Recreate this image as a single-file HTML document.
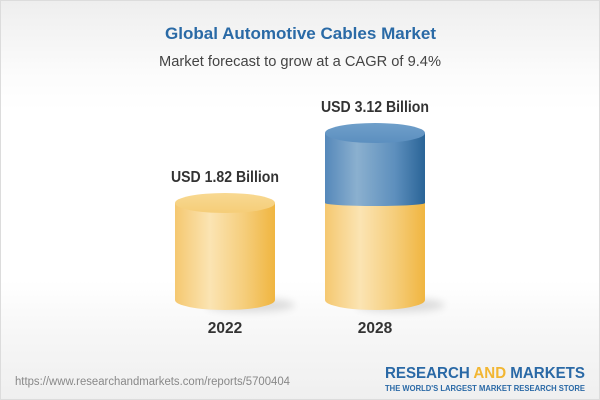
<!DOCTYPE html>
<html><head><meta charset="utf-8"><style>
html,body{margin:0;padding:0;}
body{width:600px;height:400px;overflow:hidden;font-family:"Liberation Sans",Arial,sans-serif;}
.wrap{position:relative;width:598px;height:398px;border:1px solid #dcdcdc;background:linear-gradient(to bottom,#eeeeee 0px,#fbfbfb 70px,#ffffff 110px,#ffffff 280px,#f7f7f7 330px,#efefef 400px);}
svg{position:absolute;left:0;top:0;}
</style></head><body><div class="wrap">
<svg width="598" height="398" viewBox="1 1 598 398" xmlns="http://www.w3.org/2000/svg">
<defs>
<linearGradient id="yb" x1="0" x2="1" y1="0" y2="0">
<stop offset="0" stop-color="#f5c870"/>
<stop offset="0.35" stop-color="#fbe4b3"/>
<stop offset="0.7" stop-color="#f5cd7a"/>
<stop offset="1" stop-color="#f0b540"/>
</linearGradient>
<linearGradient id="yt" x1="0" x2="0" y1="0" y2="1">
<stop offset="0" stop-color="#f8d992"/>
<stop offset="1" stop-color="#f5cd78"/>
</linearGradient>
<linearGradient id="bb" x1="0" x2="1" y1="0" y2="0">
<stop offset="0" stop-color="#5588ba"/>
<stop offset="0.32" stop-color="#8bb0cf"/>
<stop offset="0.7" stop-color="#5d8fbd"/>
<stop offset="1" stop-color="#2a6497"/>
</linearGradient>
<linearGradient id="bt" x1="0" x2="0" y1="0" y2="1">
<stop offset="0" stop-color="#6f9fca"/>
<stop offset="1" stop-color="#5c8fbf"/>
</linearGradient>
<filter id="blur" x="-50%" y="-50%" width="200%" height="200%"><feGaussianBlur stdDeviation="4"/></filter>
</defs>
<text x="165" y="39" font-family="Liberation Sans, Arial, sans-serif" font-weight="bold" font-size="16.8" fill="#2a6aa6" textLength="271" lengthAdjust="spacingAndGlyphs">Global Automotive Cables Market</text>
<text x="159" y="66" font-family="Liberation Sans, Arial, sans-serif" font-size="15" fill="#444" textLength="282" lengthAdjust="spacingAndGlyphs">Market forecast to grow at a CAGR of 9.4%</text>

<!-- shadows -->
<ellipse cx="250" cy="305" rx="45" ry="7" fill="#000" opacity="0.12" filter="url(#blur)"/>
<ellipse cx="400" cy="305" rx="45" ry="7" fill="#000" opacity="0.12" filter="url(#blur)"/>

<!-- cylinder 1 -->
<path d="M175,203 L175,300 A50,10 0 0 0 275,300 L275,203 Z" fill="url(#yb)"/>
<ellipse cx="225" cy="203" rx="50" ry="10" fill="url(#yt)"/>

<!-- cylinder 2 -->
<path d="M325,200 L325,300 A50,10 0 0 0 425,300 L425,200 Z" fill="url(#yb)"/>
<path d="M325,133 L325,203 A50,3 0 0 0 425,203 L425,133 Z" fill="url(#bb)"/>
<ellipse cx="375" cy="133" rx="50" ry="10" fill="url(#bt)"/>

<text x="171" y="182" font-family="Liberation Sans, Arial, sans-serif" font-weight="bold" font-size="15.5" fill="#333" textLength="108" lengthAdjust="spacingAndGlyphs">USD 1.82 Billion</text>
<text x="321" y="112" font-family="Liberation Sans, Arial, sans-serif" font-weight="bold" font-size="15.5" fill="#333" textLength="108" lengthAdjust="spacingAndGlyphs">USD 3.12 Billion</text>
<text x="225" y="333" text-anchor="middle" font-family="Liberation Sans, Arial, sans-serif" font-weight="bold" font-size="15.5" fill="#333">2022</text>
<text x="375" y="333" text-anchor="middle" font-family="Liberation Sans, Arial, sans-serif" font-weight="bold" font-size="15.5" fill="#333">2028</text>

<text x="15" y="385" font-family="Liberation Sans, Arial, sans-serif" font-size="11.5" fill="#888" textLength="275" lengthAdjust="spacingAndGlyphs">https://www.researchandmarkets.com/reports/5700404</text>
<text x="385" y="378" font-family="Liberation Sans, Arial, sans-serif" font-weight="bold" font-size="15.5" fill="#2a69a6" textLength="200" lengthAdjust="spacingAndGlyphs">RESEARCH <tspan fill="#f2b632">AND</tspan> MARKETS</text>
<text x="385" y="391" font-family="Liberation Sans, Arial, sans-serif" font-weight="bold" font-size="7.8" fill="#2a69a6" textLength="200" lengthAdjust="spacingAndGlyphs">THE WORLD'S LARGEST MARKET RESEARCH STORE</text>
</svg>
</div></body></html>
